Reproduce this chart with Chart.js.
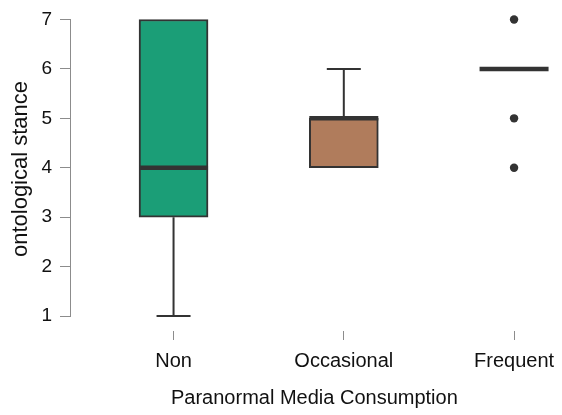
<!DOCTYPE html>
<html>
<head>
<meta charset="utf-8">
<script src="https://cdn.jsdelivr.net/npm/chart.js@4/dist/chart.umd.min.js"></script>
<style>
  html, body { margin: 0; padding: 0; background: #ffffff; }
  #c { display: block; }
</style>
</head>
<body>
<canvas id="c" width="562" height="415"></canvas>
<script>
// Ontological stance by paranormal media consumption (box-and-whisker summary)
const categories   = ['Non', 'Occasional', 'Frequent'];
const lowerWhisker = [1, 4, 6];
const q1           = [3, 4, 6];
const median       = [4, 5, 6];
const q3           = [7, 5, 6];
const upperWhisker = [7, 6, 6];
const outliers     = [[], [], [7, 5, 4]];
const yTicks       = [1, 2, 3, 4, 5, 6, 7];

const boxColors = ['#1b9e77', '#b07c5c', '#7570b3'];
const ink = '#333333';
const axisGrey = '#8c8c8c';
const FONT = '"Liberation Sans", Arial, Helvetica, sans-serif';

// whiskers, caps and medians drawn on top of the boxes
const boxDecor = {
  id: 'boxDecor',
  afterDatasetsDraw(chart) {
    const { ctx, scales: { x, y } } = chart;
    const boxHalf = 34.5, capHalf = 17;
    ctx.save();
    ctx.strokeStyle = ink;
    ctx.lineCap = 'butt';
    categories.forEach((c, i) => {
      const cx = x.getPixelForValue(i);
      ctx.lineWidth = 2;
      ctx.beginPath();
      if (upperWhisker[i] > q3[i]) {
        const yt = y.getPixelForValue(upperWhisker[i]);
        ctx.moveTo(cx, y.getPixelForValue(q3[i]));
        ctx.lineTo(cx, yt);
        ctx.moveTo(cx - capHalf, yt);
        ctx.lineTo(cx + capHalf, yt);
      }
      if (lowerWhisker[i] < q1[i]) {
        const yb = y.getPixelForValue(lowerWhisker[i]);
        ctx.moveTo(cx, y.getPixelForValue(q1[i]));
        ctx.lineTo(cx, yb);
        ctx.moveTo(cx - capHalf, yb);
        ctx.lineTo(cx + capHalf, yb);
      }
      ctx.stroke();
      ctx.lineWidth = 4.5;
      ctx.beginPath();
      const ym = y.getPixelForValue(median[i]);
      ctx.moveTo(cx - boxHalf, ym);
      ctx.lineTo(cx + boxHalf, ym);
      ctx.stroke();
    });
    // y axis line spanning the first to the last tick
    ctx.strokeStyle = axisGrey;
    ctx.lineWidth = 1;
    const ax = Math.round(y.right) - 0.5;
    ctx.beginPath();
    ctx.moveTo(ax, y.getPixelForValue(yTicks[0]) + 0.5);
    ctx.lineTo(ax, y.getPixelForValue(yTicks[yTicks.length - 1]) - 0.5);
    ctx.stroke();
    ctx.restore();
  }
};

const boxData = categories.map((c, i) => ({ x: i, y: [q1[i], q3[i]] }));
const outlierData = [];
outliers.forEach((list, i) => list.forEach(v => outlierData.push({ x: i, y: v })));

new Chart(document.getElementById('c'), {
  type: 'bar',
  data: {
    datasets: [
      {
        type: 'bar',
        data: boxData,
        backgroundColor: boxColors,
        borderColor: ink,
        borderWidth: 2,
        borderSkipped: false,
        barThickness: 69
      },
      {
        type: 'scatter',
        data: outlierData,
        pointRadius: 4.2,
        pointBackgroundColor: ink,
        pointBorderWidth: 0,
        showLine: false
      }
    ]
  },
  options: {
    responsive: false,
    animation: false,
    devicePixelRatio: 1,
    layout: { padding: { top: 7, right: 0, bottom: 0, left: 0 } },
    plugins: { legend: { display: false }, tooltip: { enabled: false } },
    scales: {
      x: {
        type: 'linear',
        offset: false,
        min: -0.6023,
        max: 2.2569,
        afterBuildTicks(scale) { scale.ticks = categories.map((c, i) => ({ value: i })); },
        afterFit(scale) { scale.height = 84; scale.paddingLeft = 0; scale.paddingRight = 0; },
        grid: { display: true, offset: false, drawOnChartArea: false, drawTicks: true, tickLength: 9, color: axisGrey, lineWidth: 1 },
        border: { display: false },
        ticks: {
          autoSkip: false, maxRotation: 0, padding: 9,
          color: '#111', font: { family: FONT, size: 20 },
          callback: (v) => categories[v]
        },
        title: {
          display: true, text: 'Paranormal Media Consumption',
          color: '#111', font: { family: FONT, size: 20 },
          padding: { top: 4, bottom: 5 }
        }
      },
      y: {
        type: 'linear',
        min: 0.6965,
        max: 7.253,
        afterBuildTicks(scale) { scale.ticks = yTicks.map(v => ({ value: v })); },
        afterFit(scale) { scale.width = 71; scale.paddingTop = 0; scale.paddingBottom = 0; },
        grid: { display: true, drawOnChartArea: false, drawTicks: true, tickLength: 11, color: axisGrey, lineWidth: 1 },
        border: { display: false },
        ticks: { padding: 8, color: '#111', font: { family: FONT, size: 19 } },
        title: {
          display: true, text: 'ontological stance',
          color: '#111', font: { family: FONT, size: 22 },
          padding: { top: 8, bottom: 0 }
        }
      }
    }
  },
  plugins: [boxDecor]
});
</script>
</body>
</html>
